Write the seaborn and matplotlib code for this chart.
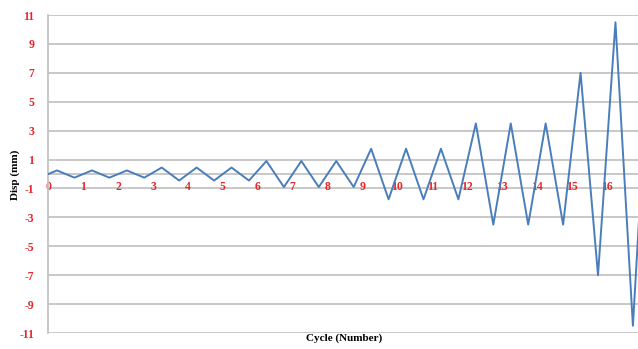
import matplotlib
matplotlib.use("Agg")
import matplotlib.pyplot as plt
import seaborn as sns
import pandas as pd

# Cyclic displacement history: peak and trough of every cycle
cycle = [0, 0.25, 0.75, 1.25, 1.75, 2.25, 2.75, 3.25, 3.75, 4.25, 4.75,
         5.25, 5.75, 6.25, 6.75, 7.25, 7.75, 8.25, 8.75, 9.25, 9.75,
         10.25, 10.75, 11.25, 11.75, 12.25, 12.75, 13.25, 13.75, 14.25,
         14.75, 15.25, 15.75, 16.25, 16.75, 17]
disp = [0, 0.25, -0.25, 0.25, -0.25, 0.25, -0.25, 0.45, -0.45, 0.45, -0.45,
        0.45, -0.45, 0.9, -0.9, 0.9, -0.9, 0.9, -0.9, 1.75, -1.75,
        1.75, -1.75, 1.75, -1.75, 3.5, -3.5, 3.5, -3.5, 3.5,
        -3.5, 7.0, -7.0, 10.5, -10.5, 0]

x_ticks = list(range(0, 18))
x_tick_labels = [str(v) for v in x_ticks]
y_ticks = [-11, -9, -7, -5, -3, -1, 1, 3, 5, 7, 9, 11]
y_tick_labels = ["-11", "-9", "-7", "-5", "-3", "-1", "1", "3", "5", "7", "9", "11"]

df = pd.DataFrame({"Cycle": cycle, "Disp": disp})

sns.set_style("white")
plt.rcParams["font.family"] = ["Liberation Serif", "DejaVu Serif"]

fig = plt.figure(figsize=(6.38, 3.49), dpi=100)
ax = fig.add_axes([0.0757, 0.0458, 0.930, 0.911])

grid_color = "#c4c4c4"
for yv in y_ticks:
    ax.axhline(yv, color=grid_color, lw=1.3, zorder=0)

sns.lineplot(data=df, x="Cycle", y="Disp", sort=False, color="#4a7ebb",
             lw=1.4, ax=ax, zorder=3)

ax.set_xlim(0, 17)
ax.set_ylim(-11, 11)

ax.set_xticks(x_ticks)
ax.set_xticklabels(x_tick_labels)
ax.set_yticks(y_ticks)
ax.set_yticklabels(y_tick_labels)

for s in ["top", "right"]:
    ax.spines[s].set_visible(False)
ax.spines["left"].set_color(grid_color)
ax.spines["left"].set_linewidth(1.3)
ax.spines["bottom"].set_color(grid_color)
ax.spines["bottom"].set_linewidth(1.3)
ax.spines["bottom"].set_position(("data", 0))

ax.tick_params(axis="both", colors=grid_color, length=3, width=1.0,
               labelcolor="#e8262a", labelsize=8.5)
ax.tick_params(axis="x", pad=2)
ax.tick_params(axis="y", pad=7)
for lab in ax.get_xticklabels() + ax.get_yticklabels():
    lab.set_fontweight("bold")

ax.set_xlabel("")
ax.set_ylabel("")
fig.text(0.539, 0.017, "Cycle (Number)", ha="center", va="bottom",
         fontsize=8, fontweight="bold", color="black")
fig.text(0.024, 0.5, "Disp (mm)", ha="center", va="center", rotation=90,
         fontsize=8, fontweight="bold", color="black")

fig.savefig("out.png", dpi=100)
